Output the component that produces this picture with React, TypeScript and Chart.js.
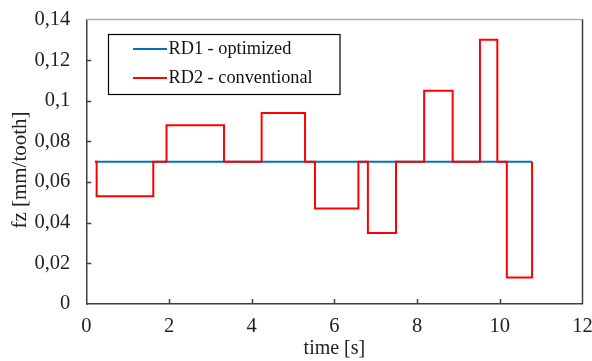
import React, { useEffect, useRef } from "react";
import { Chart, registerables } from "chart.js";

Chart.register(...registerables);

// ---- data ----
const seriesLabels = ["RD1 - optimized", "RD2 - conventional"];
const rd1Time = [0.21, 10.78];
const rd1Value = [0.07, 0.07];
// RD2: level changes (stepped: value holds until next time)
const rd2Time = [0.21, 0.25, 1.62, 1.94, 3.33, 4.24, 5.29, 5.53, 6.58, 6.81, 7.49, 8.17, 8.86, 9.52, 9.94, 10.17, 10.78];
const rd2Value = [0.07, 0.053, 0.07, 0.088, 0.07, 0.094, 0.07, 0.047, 0.07, 0.035, 0.07, 0.105, 0.07, 0.13, 0.07, 0.013, 0.07];
const xMin = 0, xMax = 12, xStep = 2;
const yMin = 0, yMax = 0.14, yStep = 0.02;
const xTitle = "time [s]";
const yTitle = "fz [mm/tooth]";

const BLUE = "#0070C0";
const RED = "#FF0000";
const AXIS = "#404040";
const FONT = "'Liberation Serif', 'Times New Roman', serif";

const fmt = (v: number) => String(Number(v.toFixed(2))).replace(".", ",");

const decorPlugin = {
  id: "decor",
  afterDraw(chart: any) {
    const { ctx, chartArea } = chart;
    const { left, right, top, bottom } = chartArea;
    const xs = chart.scales.x;
    const ys = chart.scales.y;
    ctx.save();
    // top & right border
    ctx.lineWidth = 1.5;
    ctx.strokeStyle = "#b0b0b0";
    ctx.beginPath();
    ctx.moveTo(left, top);
    ctx.lineTo(right, top);
    ctx.stroke();
    ctx.strokeStyle = AXIS;
    ctx.beginPath();
    ctx.moveTo(right, top);
    ctx.lineTo(right, bottom);
    ctx.stroke();
    // inside ticks
    ctx.lineWidth = 1.5;
    ctx.strokeStyle = AXIS;
    for (let v = xMin + xStep; v < xMax - 1e-9; v += xStep) {
      const px = Math.round(xs.getPixelForValue(v)) + 0.5;
      ctx.beginPath();
      ctx.moveTo(px, bottom);
      ctx.lineTo(px, bottom - 5);
      ctx.stroke();
    }
    for (let v = yMin + yStep; v < yMax - 1e-9; v += yStep) {
      const py = Math.round(ys.getPixelForValue(v)) + 0.5;
      ctx.beginPath();
      ctx.moveTo(left, py);
      ctx.lineTo(left + 5, py);
      ctx.stroke();
    }
    // y axis title
    ctx.save();
    ctx.translate(20, 170);
    ctx.rotate(-Math.PI / 2);
    ctx.fillStyle = "#222";
    ctx.font = `21px ${FONT}`;
    ctx.textAlign = "center";
    ctx.textBaseline = "middle";
    ctx.fillText(yTitle, 0, 0);
    ctx.restore();
    // legend
    const bx = 108.5, by = 34.5, bw = 231.5, bh = 60;
    ctx.fillStyle = "#fff";
    ctx.fillRect(bx, by, bw, bh);
    ctx.strokeStyle = "#000";
    ctx.lineWidth = 1.2;
    ctx.strokeRect(bx, by, bw, bh);
    const rows = [49, 78];
    chart.data.datasets.forEach((ds: any) => {
      const y = rows[ds.legendIndex];
      ctx.strokeStyle = ds.borderColor;
      ctx.lineWidth = 2;
      ctx.beginPath();
      ctx.moveTo(133, y);
      ctx.lineTo(167, y);
      ctx.stroke();
      ctx.fillStyle = "#111";
      ctx.font = `18.3px ${FONT}`;
      ctx.textBaseline = "middle";
      ctx.textAlign = "left";
      ctx.fillText(ds.label, 168.5, y);
    });
    ctx.restore();
  },
};

export default function App() {
  const ref = useRef<HTMLCanvasElement | null>(null);
  useEffect(() => {
    if (!ref.current) return;
    const chart = new Chart(ref.current, {
      type: "line",
      data: {
        datasets: [
          {
            label: seriesLabels[1],
            legendIndex: 1,
            data: rd2Time.map((t, i) => ({ x: t, y: rd2Value[i] })),
            borderColor: RED,
            backgroundColor: RED,
            borderWidth: 2,
            pointRadius: 0,
            stepped: "before",
            order: 0,
          } as any,
          {
            label: seriesLabels[0],
            legendIndex: 0,
            data: rd1Time.map((t, i) => ({ x: t, y: rd1Value[i] })),
            borderColor: BLUE,
            backgroundColor: BLUE,
            borderWidth: 2,
            pointRadius: 0,
            order: 1,
          } as any,
        ],
      },
      options: {
        animation: false,
        responsive: true,
        maintainAspectRatio: false,
        layout: { padding: { left: 0, top: 19.5, right: 9.5, bottom: 0 } },
        plugins: { legend: { display: false }, tooltip: { enabled: false } },
        scales: {
          x: {
            type: "linear",
            min: xMin,
            max: xMax,
            afterFit: (s: any) => {
              s.height = 57;
              s.paddingLeft = 0;
              s.paddingRight = 0;
            },
            ticks: {
              stepSize: xStep,
              color: "#222",
              font: { family: FONT, size: 20.5 },
              padding: 10,
              maxRotation: 0,
              callback: (v: any) => String(v),
            },
            grid: { display: false, drawTicks: false },
            border: { display: true, color: AXIS, width: 1.5 },
            title: {
              display: true,
              text: xTitle,
              color: "#222",
              font: { family: FONT, size: 20 },
              padding: { top: 0, bottom: 0 },
            },
          },
          y: {
            type: "linear",
            min: yMin,
            max: yMax,
            afterFit: (s: any) => {
              s.width = 86.3;
              s.paddingTop = 0;
              s.paddingBottom = 0;
            },
            ticks: {
              stepSize: yStep,
              color: "#222",
              font: { family: FONT, size: 20.5 },
              padding: 16,
              callback: (v: any) => fmt(Number(v)),
            },
            grid: { display: false, drawTicks: false },
            border: { display: true, color: AXIS, width: 1.5 },
            title: { display: false },
          },
        },
      } as any,
      plugins: [decorPlugin],
    });
    return () => chart.destroy();
  }, []);
  return (
    <div style={{ position: "fixed", left: 0, top: 0, width: 592, height: 361, background: "#fff" }}>
      <canvas ref={ref} />
    </div>
  );
}
